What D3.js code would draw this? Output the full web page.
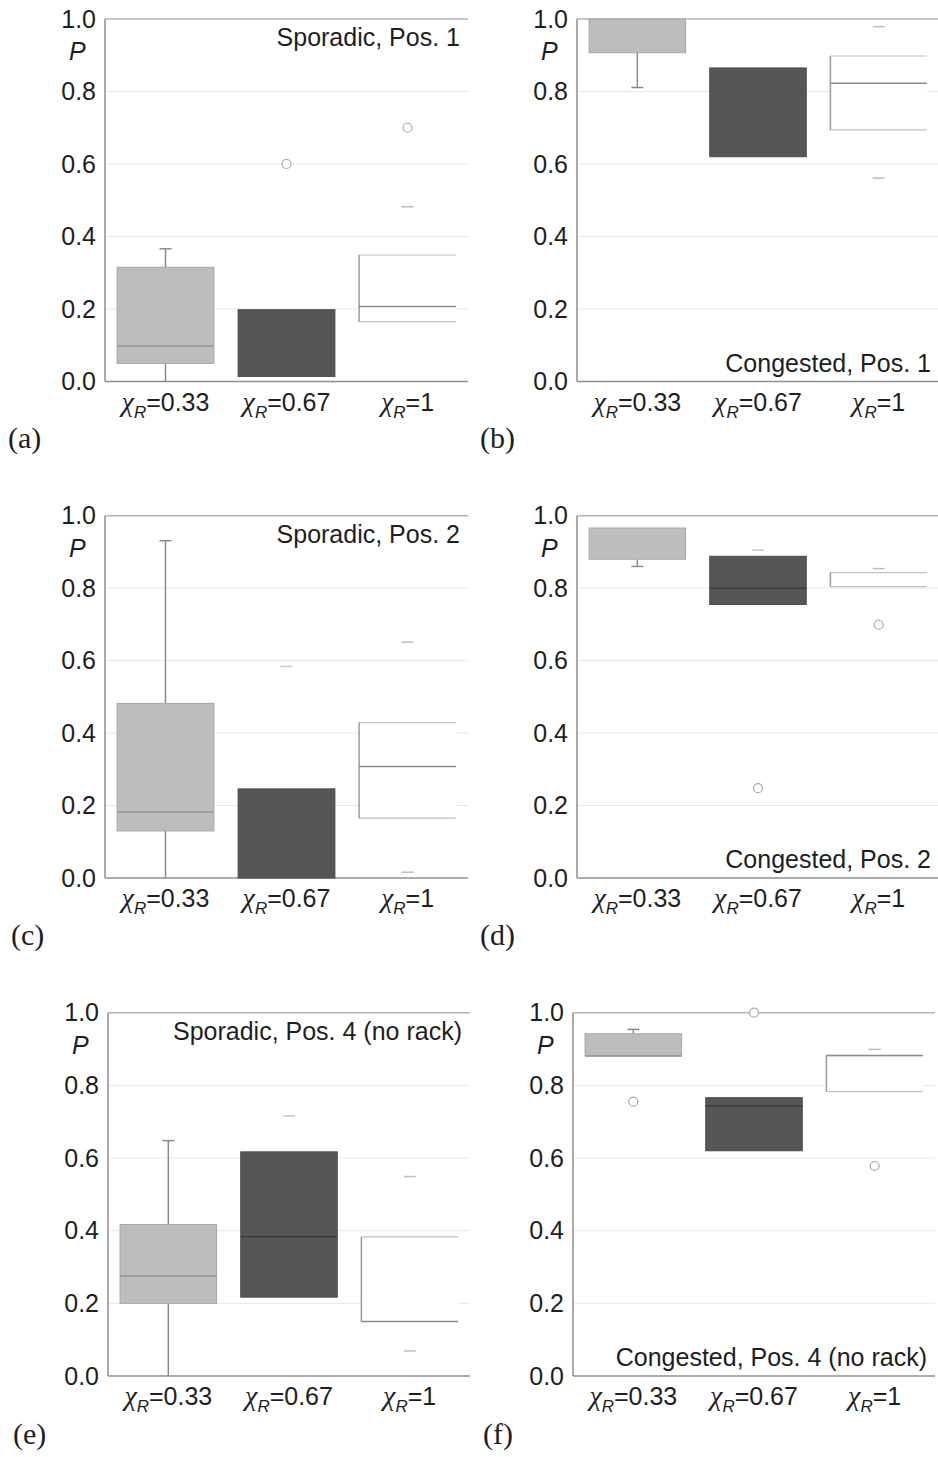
<!DOCTYPE html>
<html lang="en">
<head>
<meta charset="utf-8">
<title>Box plots P by chi_R</title>
<script src="https://d3js.org/d3.v7.min.js"></script>
<style>
body { margin: 0; background: #fff; }
svg text { font-family: "Liberation Sans", Arial, sans-serif; fill: #1e1e1e; }
.tick text { font-size: 25px; }
.letter { font-family: "Liberation Serif", "Times New Roman", serif !important; font-size: 30px; }
</style>
</head>
<body>
<div id="chart"></div>
<script>

// data
var categories = ["0.33", "0.67", "1"]
var yTicks = [0, 0.2, 0.4, 0.6, 0.8, 1.0]
var titles = ["Sporadic, Pos. 1", "Congested, Pos. 1", "Sporadic, Pos. 2",
              "Congested, Pos. 2", "Sporadic, Pos. 4 (no rack)", "Congested, Pos. 4 (no rack)"]
var letters = ["(a)", "(b)", "(c)", "(d)", "(e)", "(f)"]

// box stats per panel: lower whisker, q1, median, q3, upper whisker, outliers
var boxesA = [
    {lo: 0.0,   q1: 0.050, med: 0.098, q3: 0.315, hi: 0.366, out: []},
    {lo: null,  q1: 0.014, med: null,  q3: 0.198, hi: null,  out: [0.600]},
    {lo: null,  q1: 0.165, med: 0.207, q3: 0.349, hi: 0.482, out: [0.700]}
]
var boxesB = [
    {lo: 0.811, q1: 0.907, med: null,  q3: 1.000, hi: null,  out: []},
    {lo: null,  q1: 0.620, med: null,  q3: 0.865, hi: null,  out: []},
    {lo: 0.561, q1: 0.694, med: 0.823, q3: 0.898, hi: 0.979, out: []}
]
var boxesC = [
    {lo: 0.0,   q1: 0.130, med: 0.182, q3: 0.482, hi: 0.931, out: []},
    {lo: null,  q1: 0.0,   med: null,  q3: 0.246, hi: 0.584, out: []},
    {lo: 0.016, q1: 0.165, med: 0.308, q3: 0.429, hi: 0.651, out: []}
]
var boxesD = [
    {lo: 0.860, q1: 0.880, med: null,  q3: 0.966, hi: null,  out: []},
    {lo: null,  q1: 0.755, med: 0.800, q3: 0.888, hi: 0.905, out: [0.248]},
    {lo: null,  q1: 0.804, med: null,  q3: 0.843, hi: 0.854, out: [0.699]}
]
var boxesE = [
    {lo: 0.0,   q1: 0.200, med: 0.275, q3: 0.417, hi: 0.648, out: []},
    {lo: null,  q1: 0.217, med: 0.383, q3: 0.617, hi: 0.716, out: []},
    {lo: 0.069, q1: 0.150, med: 0.150, q3: 0.383, hi: 0.549, out: []}
]
var boxesF = [
    {lo: null,  q1: 0.881, med: 0.881, q3: 0.942, hi: 0.954, out: [0.755]},
    {lo: null,  q1: 0.620, med: 0.743, q3: 0.766, hi: null,  out: [1.000]},
    {lo: null,  q1: 0.783, med: 0.882, q3: 0.882, hi: 0.899, out: [0.578]}
]
var allBoxes = [boxesA, boxesB, boxesC, boxesD, boxesE, boxesF]

// layout of the six panels
var layout = [
    {x0: 105, x1: 468, top: 19,    zero: 381.5, titleTop: true,  lx: 8,   ly: 448},
    {x0: 577, x1: 939, top: 19,    zero: 381.5, titleTop: false, lx: 480, ly: 448},
    {x0: 105, x1: 468, top: 515.7, zero: 878,   titleTop: true,  lx: 11,  ly: 945},
    {x0: 577, x1: 939, top: 515.7, zero: 878,   titleTop: false, lx: 480, ly: 945},
    {x0: 108, x1: 470, top: 1012.7, zero: 1376, titleTop: true,  lx: 13,  ly: 1444},
    {x0: 573, x1: 935, top: 1012.7, zero: 1376, titleTop: false, lx: 483, ly: 1444}
]

// style per category (light, dark, white)
var styles = [
    {fill: '#bdbdbd', edge: '#a6a6a6', med: '#969696', whisk: '#8a8a8a', cap: '#8a8a8a'},
    {fill: '#545658', edge: '#4a4b4d', med: '#3a3b3c', whisk: null,      cap: '#c6c6c6'},
    {fill: '#ffffff', edge: '#c2c2c2', med: '#8a8a8a', whisk: null,      cap: '#bdbdbd'}
]

var svg = d3.select('#chart').append('svg')
    .attr('width', 938)
    .attr('height', 1457)

function drawPanel(p, i) {
    var boxes = allBoxes[i]
    var g = svg.append('g')

    var x = d3.scaleBand()
        .domain(categories)
        .range([p.x0, p.x1])
        .paddingInner(0.2)
        .paddingOuter(0.1)
    var y = d3.scaleLinear().domain([0, 1]).range([p.zero, p.top])

    // gridlines
    g.selectAll('.grid')
        .data(yTicks.filter(function(t) { return t > 0 }))
        .enter().append('line')
        .attr('x1', p.x0).attr('x2', p.x1)
        .attr('y1', function(d) { return y(d) })
        .attr('y2', function(d) { return y(d) })
        .attr('stroke', function(d) { return d == 1 ? '#b4b4b4' : '#e8e8e8' })
        .attr('stroke-width', function(d) { return d == 1 ? 1.5 : 1 })

    // y axis labels
    var yAxis = g.append('g')
        .attr('transform', 'translate(' + p.x0 + ',0)')
        .call(d3.axisLeft(y).tickValues(yTicks).tickFormat(d3.format('.1f')).tickSize(0).tickPadding(9))
    yAxis.select('.domain').remove()

    // axis lines
    g.append('line')
        .attr('x1', p.x0).attr('x2', p.x0)
        .attr('y1', p.top).attr('y2', p.zero)
        .attr('stroke', '#8f8f8f').attr('stroke-width', 1.5)
    g.append('line')
        .attr('x1', p.x0).attr('x2', p.x1)
        .attr('y1', p.zero).attr('y2', p.zero)
        .attr('stroke', '#8f8f8f').attr('stroke-width', 1.5)

    // P label
    g.append('text')
        .attr('x', p.x0 - 36)
        .attr('y', p.top + 41)
        .style('font-size', '25px')
        .style('font-style', 'italic')
        .text('P')

    boxes.forEach(function(b, j) {
        var s = styles[j]
        var cat = categories[j]
        var left = x(cat), w = x.bandwidth(), cx = left + w / 2

        // whiskers
        if (s.whisk) {
            if (b.hi != null) {
                g.append('line').attr('x1', cx).attr('x2', cx)
                    .attr('y1', y(b.q3)).attr('y2', y(b.hi))
                    .attr('stroke', s.whisk).attr('stroke-width', 1.5)
            }
            if (b.lo != null) {
                g.append('line').attr('x1', cx).attr('x2', cx)
                    .attr('y1', y(b.q1)).attr('y2', y(b.lo))
                    .attr('stroke', s.whisk).attr('stroke-width', 1.5)
            }
        }
        // caps
        ;[b.lo, b.hi].forEach(function(v) {
            if (v == null || v == 0) return
            g.append('line')
                .attr('x1', cx - 6).attr('x2', cx + 6)
                .attr('y1', y(v)).attr('y2', y(v))
                .attr('stroke', s.cap).attr('stroke-width', 1.5)
        })

        // box
        if (j < 2) {
            g.append('rect')
                .attr('x', left).attr('width', w)
                .attr('y', y(b.q3)).attr('height', y(b.q1) - y(b.q3))
                .attr('fill', s.fill)
                .attr('stroke', s.edge).attr('stroke-width', 1)
        } else {
            g.append('rect')
                .attr('x', left).attr('width', w)
                .attr('y', y(b.q3)).attr('height', y(b.q1) - y(b.q3))
                .attr('fill', s.fill)
            ;[b.q1, b.q3].forEach(function(v) {
                g.append('line')
                    .attr('x1', left).attr('x2', left + w)
                    .attr('y1', y(v)).attr('y2', y(v))
                    .attr('stroke', s.edge).attr('stroke-width', 1.2)
            })
            g.append('line')
                .attr('x1', left).attr('x2', left)
                .attr('y1', y(b.q3)).attr('y2', y(b.q1))
                .attr('stroke', '#9a9a9a').attr('stroke-width', 1.5)
        }
        if (b.med != null) {
            g.append('line')
                .attr('x1', left).attr('x2', left + w)
                .attr('y1', y(b.med)).attr('y2', y(b.med))
                .attr('stroke', s.med).attr('stroke-width', 1.5)
        }

        // outliers
        g.selectAll('.out' + j)
            .data(b.out)
            .enter().append('circle')
            .attr('cx', cx)
            .attr('cy', function(d) { return y(d) })
            .attr('r', 4.5)
            .attr('fill', '#fff')
            .attr('stroke', '#a8a8a8')
            .attr('stroke-width', 1.2)

        // category label
        var t = g.append('text')
            .attr('x', cx)
            .attr('y', p.zero + 29)
            .attr('text-anchor', 'middle')
        t.append('tspan')
            .style('font-family', '"Liberation Serif", serif')
            .style('font-style', 'italic')
            .style('font-size', '28px')
            .text('\u03c7')
        t.append('tspan')
            .attr('dy', 7)
            .style('font-style', 'italic')
            .style('font-size', '17px')
            .text('R')
        t.append('tspan')
            .attr('dy', -7)
            .style('font-size', '25px')
            .text('=' + cat)
    })

    // panel title
    g.append('text')
        .attr('x', p.x1 - 8)
        .attr('y', p.titleTop ? p.top + 27 : p.zero - 10)
        .attr('text-anchor', 'end')
        .style('font-size', '25px')
        .text(titles[i])

    // panel letter
    svg.append('text')
        .attr('class', 'letter')
        .attr('x', p.lx)
        .attr('y', p.ly)
        .text(letters[i])
}

layout.forEach(drawPanel)

</script>
</body>
</html>
